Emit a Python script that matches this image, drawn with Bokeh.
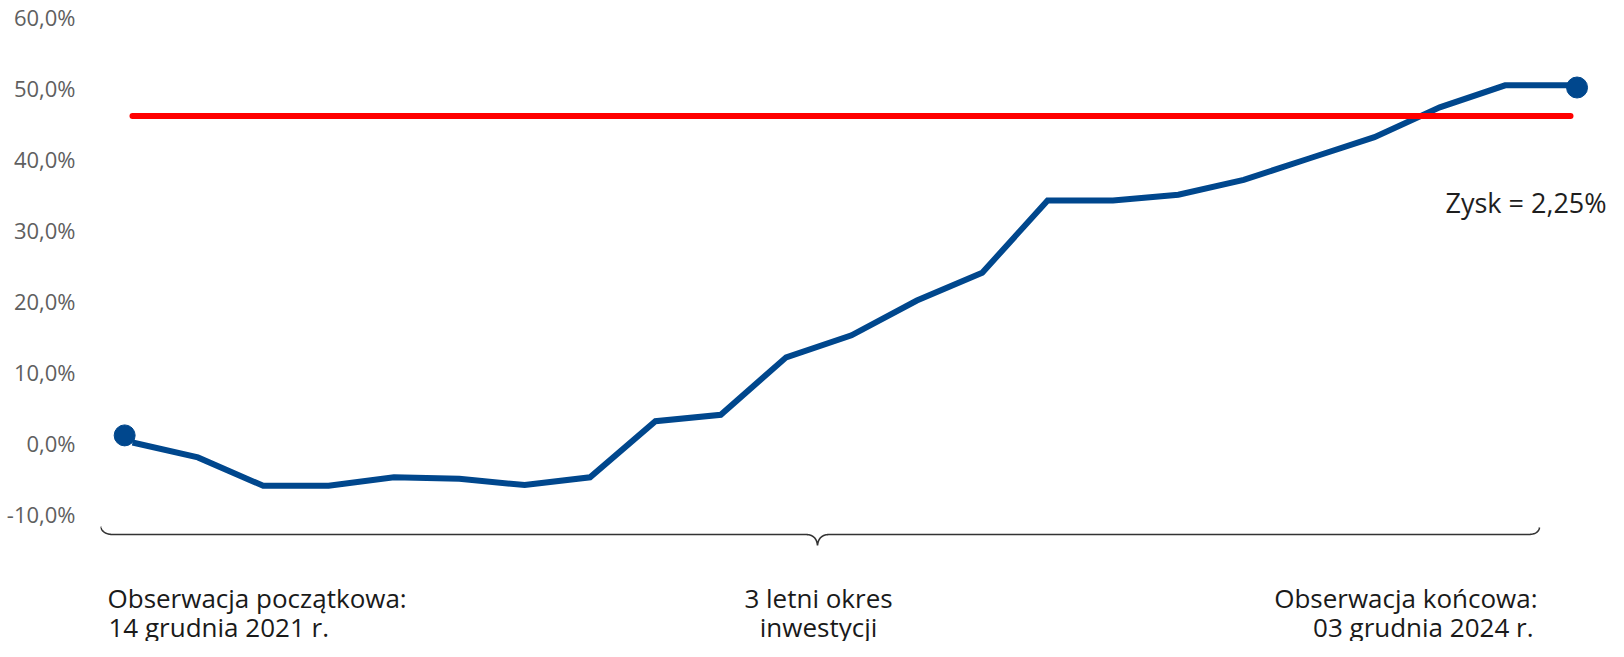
import numpy as np
from bokeh.plotting import figure
from bokeh.models import Range1d, FixedTicker
from bokeh.core.properties import value
from bokeh.embed import file_html
from bokeh.resources import INLINE

# ---- data ----
obs_index = list(range(23))
perf_values = [0.0, -2.1, -6.1, -6.1, -4.9, -5.1, -6.0, -4.9, 3.0, 3.9, 12.0, 15.1,
               20.0, 23.9, 34.1, 34.1, 34.9, 37.0, 40.0, 43.0, 47.2, 50.3, 50.3]
marker_x = [-0.12, 22.1]
marker_y = [1.0, 50.0]
barrier_x = [0, 22]
barrier_y = [46.0, 46.0]
y_ticks = [-10, 0, 10, 20, 30, 40, 50, 60]
y_tick_labels = ["-10,0%", "0,0%", "10,0%", "20,0%", "30,0%", "40,0%", "50,0%", "60,0%"]
profit_label = "Zysk = 2,25%"
bottom_left = ["Obserwacja początkowa:", "14 grudnia 2021 r."]
bottom_mid = ["3 letni okres", "inwestycji"]
bottom_right = ["Obserwacja końcowa:", "03 grudnia 2024 r."]

# ---- layout helpers (page pixels -> data) ----
W, H = 1608, 641
X0_PAGE, PX_PER_IDX = 140.0, (1578.0 - 140.0) / 22.0
Y0_PAGE, PX_PER_PCT = 450.0, 7.1


def X(px):
    return (px - X0_PAGE) / PX_PER_IDX


def Y(py):
    return (Y0_PAGE - py) / PX_PER_PCT


p = figure(width=W, height=H, output_backend="svg", toolbar_location=None,
           x_axis_location=None, title=None,
           x_range=Range1d(X(108), X(8 + W)), y_range=Range1d(Y(8 + H), Y(8)),
           min_border_left=100, min_border_right=0, min_border_top=0, min_border_bottom=0)
p.grid.visible = False
p.outline_line_color = None
p.background_fill_color = "white"
p.border_fill_color = "white"

yax = p.yaxis[0]
yax.ticker = FixedTicker(ticks=y_ticks)
yax.major_label_overrides = {t: l for t, l in zip(y_ticks, y_tick_labels)}
yax.axis_line_color = None
yax.major_tick_line_color = None
yax.minor_tick_line_color = None
yax.major_tick_out = 0
yax.major_tick_in = 0
yax.major_label_standoff = 25
yax.major_label_text_font = "Open Sans"
yax.major_label_text_font_size = "22px"
yax.major_label_text_color = "#5f5f5f"

BLUE = "#00478d"

p.line(obs_index, perf_values, line_color=BLUE, line_width=6, line_join="miter")
p.scatter(marker_x, marker_y, size=21, fill_color=BLUE, line_color=BLUE)
p.line(barrier_x, barrier_y, line_color="#ff0000", line_width=6, line_cap="round")

p.text([X(1453)], [Y(210)], text=[profit_label], text_font=value("Open Sans"),
       text_font_size="27px", text_color="#1e1e1e", text_align="left",
       text_baseline="middle")


# brace
def qb(a, c, b, n=24):
    t = np.linspace(0, 1, n)[:, None]
    a, c, b = np.array(a), np.array(c), np.array(b)
    return (1 - t) ** 2 * a + 2 * (1 - t) * t * c + t ** 2 * b


pts = np.vstack([
    qb((108, 534), (110, 542), (121, 542)),
    qb((813, 542), (824, 542), (825, 553)),
    qb((825, 553), (826, 542), (837, 542)),
    qb((1535, 542), (1546, 542), (1547, 535)),
])
p.line([X(v) for v in pts[:, 0]], [Y(v) for v in pts[:, 1]],
       line_color="#333333", line_width=1.6)

TXT = dict(text_font=value("Open Sans"), text_font_size="26px", text_color="#1a1a1a",
           text_baseline="middle")
p.text([X(115), X(116)], [Y(605), Y(634)], text=bottom_left, text_align="left", **TXT)
p.text([X(826), X(826)], [Y(605), Y(634)], text=bottom_mid, text_align="center", **TXT)
p.text([X(1545), X(1541)], [Y(605), Y(634)], text=bottom_right, text_align="right", **TXT)

open("out.html", "w").write(file_html(p, INLINE))
